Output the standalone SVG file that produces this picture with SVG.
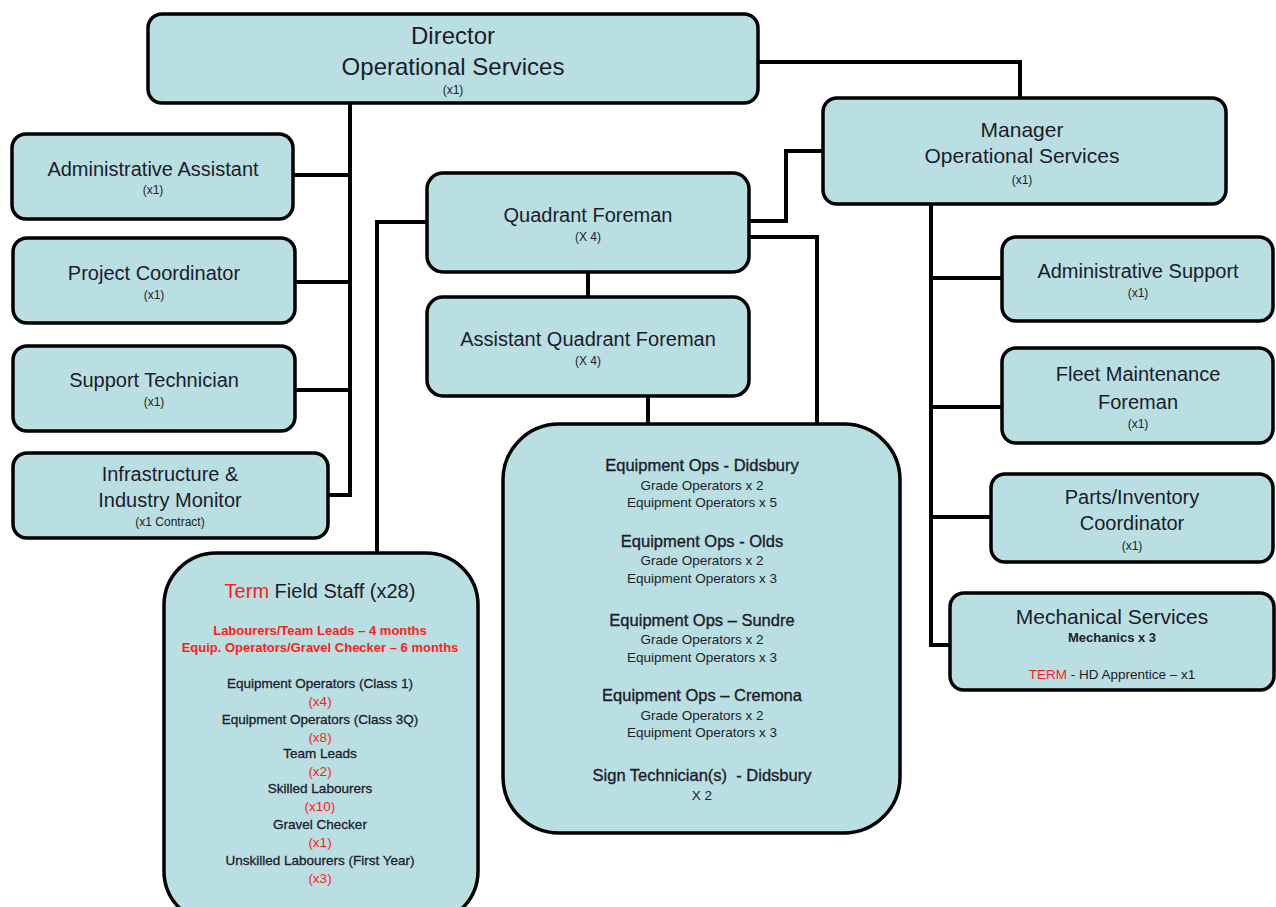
<svg xmlns="http://www.w3.org/2000/svg" width="1276" height="907" viewBox="0 0 1276 907">
<style>
.box{fill:#b9dfe2;stroke:#000;stroke-width:3.5}
.t{font-family:"Liberation Sans",Arial,sans-serif;fill:#1c1c2a;text-anchor:middle}
.h1{font-size:24px}
.h2{font-size:20px}
.h3{font-size:16.5px;stroke:#1c1c2a;stroke-width:0.35}
.s{font-size:12px}
.sub{font-size:13.5px}
.li{font-size:13.5px;stroke:#1c1c2a;stroke-width:0.3}
.red{fill:#ff1c1c}
.rb{fill:#ff1c1c;font-size:13px;font-weight:bold}
.conn{fill:none;stroke:#000;stroke-width:4;stroke-linejoin:miter}
</style>
<rect width="1276" height="907" fill="#fff"/>
<g id="connectors">
<path class="conn" d="M758,62 H1020 V98"/>
<path class="conn" d="M350,103 V495 H328"/>
<path class="conn" d="M293,175 H350"/>
<path class="conn" d="M295,282 H350"/>
<path class="conn" d="M295,390 H350"/>
<path class="conn" d="M749,221 H786 V151 H823"/>
<path class="conn" d="M427,222 H377 V553"/>
<path class="conn" d="M749,237 H817 V424"/>
<path class="conn" d="M588,272 V297"/>
<path class="conn" d="M648,396 V424"/>
<path class="conn" d="M931,204 V645 H950"/>
<path class="conn" d="M931,278 H1002"/>
<path class="conn" d="M931,407 H1002"/>
<path class="conn" d="M931,517 H991"/>
</g>
<g id="director">
<rect class="box" x="148" y="14" width="610" height="89" rx="14"/>
<text class="t h1" x="453" y="44">Director</text>
<text class="t h1" x="453" y="75">Operational Services</text>
<text class="t s" x="453" y="94">(x1)</text>
</g>
<g id="manager">
<rect class="box" x="823" y="98" width="403" height="106" rx="14"/>
<text class="t" style="font-size:21px" x="1022" y="137">Manager</text>
<text class="t" style="font-size:21px" x="1022" y="163">Operational Services</text>
<text class="t s" x="1022" y="184">(x1)</text>
</g>
<g id="admin-assistant">
<rect class="box" x="12" y="134" width="281" height="85" rx="14"/>
<text class="t h2" x="153" y="176">Administrative Assistant</text>
<text class="t s" x="153" y="194">(x1)</text>
</g>
<g id="project-coordinator">
<rect class="box" x="13" y="238" width="282" height="85" rx="14"/>
<text class="t h2" x="154" y="280">Project Coordinator</text>
<text class="t s" x="154" y="299">(x1)</text>
</g>
<g id="support-technician">
<rect class="box" x="13" y="346" width="282" height="85" rx="14"/>
<text class="t h2" x="154" y="387">Support Technician</text>
<text class="t s" x="154" y="406">(x1)</text>
</g>
<g id="infrastructure-monitor">
<rect class="box" x="13" y="453" width="315" height="85" rx="14"/>
<text class="t h2" x="170" y="481">Infrastructure &amp;</text>
<text class="t h2" x="170" y="507">Industry Monitor</text>
<text class="t s" x="170" y="526">(x1 Contract)</text>
</g>
<g id="quadrant-foreman">
<rect class="box" x="427" y="173" width="322" height="99" rx="16"/>
<text class="t h2" x="588" y="222">Quadrant Foreman</text>
<text class="t s" x="588" y="241">(X 4)</text>
</g>
<g id="assistant-quadrant-foreman">
<rect class="box" x="427" y="297" width="322" height="99" rx="16"/>
<text class="t h2" x="588" y="346">Assistant Quadrant Foreman</text>
<text class="t s" x="588" y="365">(X 4)</text>
</g>
<g id="term-field-staff">
<rect class="box" x="164" y="553" width="314" height="370" rx="52"/>
<text class="t" style="font-size:20px" x="320" y="598"><tspan class="red">Term</tspan> Field Staff (x28)</text>
<text class="t rb" x="320" y="635">Labourers/Team Leads – 4 months</text>
<text class="t rb" x="320" y="652">Equip. Operators/Gravel Checker – 6 months</text>
<text class="t li" x="320" y="688">Equipment Operators (Class 1)</text>
<text class="t sub red" x="320" y="706">(x4)</text>
<text class="t li" x="320" y="724">Equipment Operators (Class 3Q)</text>
<text class="t sub red" x="320" y="742">(x8)</text>
<text class="t li" x="320" y="758">Team Leads</text>
<text class="t sub red" x="320" y="776">(x2)</text>
<text class="t li" x="320" y="793">Skilled Labourers</text>
<text class="t sub red" x="320" y="811">(x10)</text>
<text class="t li" x="320" y="829">Gravel Checker</text>
<text class="t sub red" x="320" y="847">(x1)</text>
<text class="t li" x="320" y="865">Unskilled Labourers (First Year)</text>
<text class="t sub red" x="320" y="883">(x3)</text>
</g>
<g id="equipment-ops">
<rect class="box" x="503" y="424" width="397" height="409" rx="56"/>
<text class="t h3" x="702" y="471">Equipment Ops - Didsbury</text>
<text class="t sub" x="702" y="490">Grade Operators x 2</text>
<text class="t sub" x="702" y="507">Equipment Operators x 5</text>
<text class="t h3" x="702" y="547">Equipment Ops - Olds</text>
<text class="t sub" x="702" y="565">Grade Operators x 2</text>
<text class="t sub" x="702" y="583">Equipment Operators x 3</text>
<text class="t h3" x="702" y="626">Equipment Ops – Sundre</text>
<text class="t sub" x="702" y="644">Grade Operators x 2</text>
<text class="t sub" x="702" y="662">Equipment Operators x 3</text>
<text class="t h3" x="702" y="701">Equipment Ops – Cremona</text>
<text class="t sub" x="702" y="720">Grade Operators x 2</text>
<text class="t sub" x="702" y="737">Equipment Operators x 3</text>
<text class="t h3" x="702" y="781" xml:space="preserve">Sign Technician(s)  - Didsbury</text>
<text class="t sub" x="702" y="800">X 2</text>
</g>
<g id="administrative-support">
<rect class="box" x="1002" y="237" width="271" height="84" rx="14"/>
<text class="t h2" x="1138" y="278">Administrative Support</text>
<text class="t s" x="1138" y="297">(x1)</text>
</g>
<g id="fleet-maintenance-foreman">
<rect class="box" x="1002" y="348" width="271" height="95" rx="14"/>
<text class="t h2" x="1138" y="381">Fleet Maintenance</text>
<text class="t h2" x="1138" y="409">Foreman</text>
<text class="t s" x="1138" y="428">(x1)</text>
</g>
<g id="parts-inventory-coordinator">
<rect class="box" x="991" y="474" width="282" height="88" rx="14"/>
<text class="t h2" x="1132" y="504">Parts/Inventory</text>
<text class="t h2" x="1132" y="530">Coordinator</text>
<text class="t s" x="1132" y="550">(x1)</text>
</g>
<g id="mechanical-services">
<rect class="box" x="950" y="593" width="324" height="97" rx="14"/>
<text class="t" style="font-size:21px" x="1112" y="624">Mechanical Services</text>
<text class="t" style="font-size:13px;font-weight:bold" x="1112" y="642">Mechanics x 3</text>
<text class="t sub" x="1112" y="679"><tspan class="red">TERM</tspan> - HD Apprentice – x1</text>
</g>
</svg>
